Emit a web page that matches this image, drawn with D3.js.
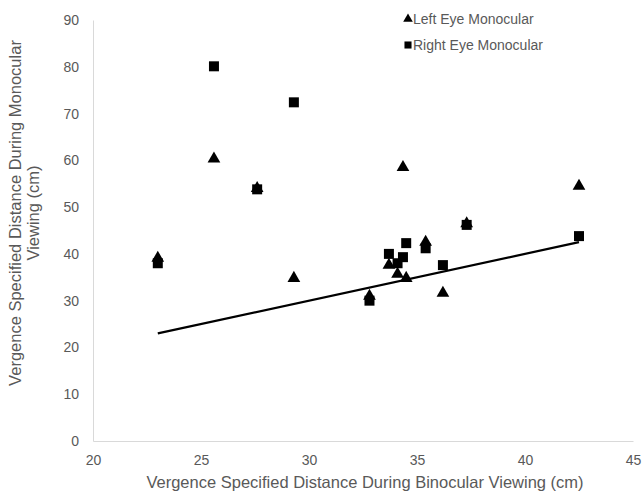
<!DOCTYPE html>
<html>
<head>
<meta charset="utf-8">
<script src="https://cdn.jsdelivr.net/npm/d3@7"></script>
<style>
  body { margin: 0; background: #fff; }
  text { font-family: "Liberation Sans", Arial, sans-serif; fill: #595959; }
</style>
</head>
<body>
<svg id="chart"></svg>
<script>
// values
const leftX  = [23.0, 25.6, 27.6, 29.3, 32.8, 33.7, 34.1, 34.35, 34.5, 35.4, 36.2, 37.3, 42.5];
const leftY  = [39.1, 60.3, 54.0, 34.8, 31.0, 37.6, 35.7, 58.5, 34.8, 42.5, 31.6, 46.5, 54.5];
const rightX = [23.0, 25.6, 27.6, 29.3, 32.8, 33.7, 34.1, 34.35, 34.5, 35.4, 36.2, 37.3, 42.5];
const rightY = [38.0, 80.1, 53.8, 72.4, 30.0, 40.0, 38.0, 39.3, 42.3, 41.2, 37.6, 46.2, 43.8];
const lineX = [23, 42.5];
const lineY = [23, 42.5];
const xTicks = [20, 25, 30, 35, 40, 45];
const yTicks = [0, 10, 20, 30, 40, 50, 60, 70, 80, 90];

const width = 642, height = 491;
const margin = { top: 20, right: 9, bottom: 50, left: 93 };

const svg = d3.select("#chart")
    .attr("width", width)
    .attr("height", height);

const x = d3.scaleLinear().domain([20, 45]).range([margin.left, width - margin.right]);
const y = d3.scaleLinear().domain([0, 90]).range([height - margin.bottom, margin.top]);

// axes (no tick marks, just grey lines and labels)
const xAxis = svg.append("g")
    .attr("transform", "translate(0," + (height - margin.bottom) + ")")
    .call(d3.axisBottom(x).tickValues(xTicks).tickSize(0).tickPadding(14));
const yAxis = svg.append("g")
    .attr("transform", "translate(" + margin.left + ",0)")
    .call(d3.axisLeft(y).tickValues(yTicks).tickSize(0).tickPadding(14));

[xAxis, yAxis].forEach(a => {
    a.select(".domain").attr("stroke", "#d9d9d9").attr("stroke-width", 1);
    a.selectAll("text")
        .style("font-family", "'Liberation Sans', Arial, sans-serif")
        .style("font-size", "14px")
        .attr("fill", "#595959");
});

// y = x reference line
svg.append("path")
    .datum(d3.zip(lineX, lineY))
    .attr("fill", "none")
    .attr("stroke", "#000")
    .attr("stroke-width", 2.2)
    .attr("d", d3.line().x(d => x(d[0])).y(d => y(d[1])));

const sq = d3.symbol().type(d3.symbolSquare).size(100);
const tri = d3.symbol().type(d3.symbolTriangle).size(70);

svg.append("g").selectAll("path")
    .data(d3.zip(rightX, rightY))
    .join("path")
    .attr("d", sq)
    .attr("transform", d => "translate(" + x(d[0]) + "," + y(d[1]) + ")")
    .attr("fill", "#000");

svg.append("g").selectAll("path")
    .data(d3.zip(leftX, leftY))
    .join("path")
    .attr("d", tri)
    .attr("transform", d => "translate(" + x(d[0]) + "," + y(d[1]) + ")")
    .attr("fill", "#000");

// axis titles
svg.append("text")
    .attr("x", 365)
    .attr("y", 488)
    .attr("text-anchor", "middle")
    .style("font-size", "16.5px")
    .text("Vergence Specified Distance During Binocular Viewing (cm)");

const yTitle = svg.append("text")
    .attr("transform", "translate(0,213) rotate(-90)")
    .attr("text-anchor", "middle")
    .style("font-size", "16.5px");
yTitle.append("tspan").attr("x", 0).attr("y", 21).text("Vergence Specified Distance During Monocular");
yTitle.append("tspan").attr("x", 0).attr("y", 39).text("Viewing (cm)");

// legend
const legend = svg.append("g").attr("transform", "translate(408,0)");
legend.append("path").attr("d", d3.symbol().type(d3.symbolTriangle).size(40))
    .attr("transform", "translate(0,19)").attr("fill", "#000");
legend.append("text").attr("x", 5).attr("y", 24).style("font-size", "14px").text("Left Eye Monocular");
legend.append("path").attr("d", d3.symbol().type(d3.symbolSquare).size(50))
    .attr("transform", "translate(0,45)").attr("fill", "#000");
legend.append("text").attr("x", 5).attr("y", 50).style("font-size", "14px").text("Right Eye Monocular");
</script>
</body>
</html>
